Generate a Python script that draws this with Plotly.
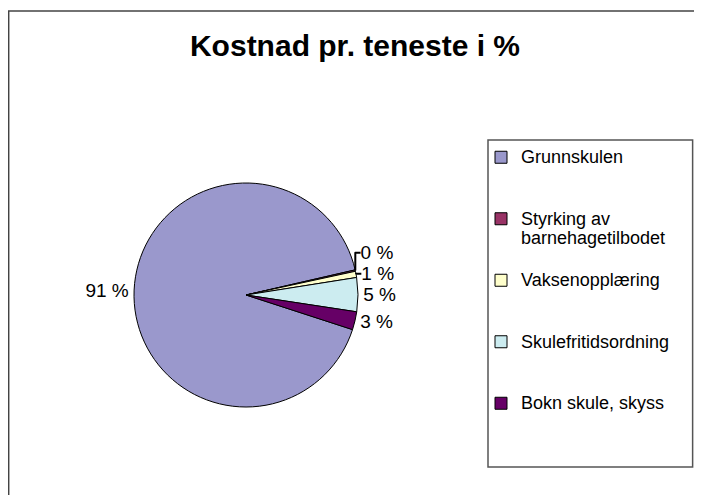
import plotly.graph_objects as go

# ---- data ----
categories = ["Grunnskulen", "Styrking av barnehagetilbodet", "Vaksenopplæring",
              "Skulefritidsordning", "Bokn skule, skyss"]
legend_labels = ["Grunnskulen", "Styrking av<br>barnehagetilbodet", "Vaksenopplæring",
                 "Skulefritidsordning", "Bokn skule, skyss"]
values_pct = [91.4, 0.2, 0.9, 4.9, 2.6]
colors = ["#9A98CC", "#993366", "#FFFFCC", "#CCECF0", "#660066"]

# page is offset by the 8px default body margin
OFF = 8
W, H = 702 - 2 * OFF, 503 - 2 * OFF
FONT = "Liberation Sans, Arial, sans-serif"


def px(x):
    return (x - OFF) / W


def py(y):
    return 1 - (y - OFF) / H


# pad legend entries to three lines each for spacing, with larger glyphs
padded = []
for lab in legend_labels:
    n = lab.count("<br>") + 1
    lines = lab.split("<br>")
    body = "<br>".join("<span style='font-size:18px'>%s</span>" % s for s in lines)
    padded.append(body + "<br> " * (3 - n))

fig = go.Figure(go.Pie(
    labels=padded,
    values=values_pct,
    sort=False,
    direction="clockwise",
    rotation=108,
    marker=dict(colors=colors, line=dict(color="black", width=1)),
    textposition="outside",
    texttemplate="%{value:.0f} %",
    textfont=dict(family=FONT, size=19, color="black"),
    hoverinfo="skip",
    domain=dict(x=[px(246 - 112), px(246 + 112)],
                y=[py(295 + 112), py(295 - 112)]),
))

fig.update_layout(
    width=W, height=H,
    margin=dict(l=0, r=0, t=0, b=0),
    paper_bgcolor="white",
    font=dict(family=FONT, color="black"),
    title=dict(text="<b>Kostnad pr. teneste i %</b>", x=px(355), xanchor="center",
               y=py(45), yanchor="middle",
               font=dict(family=FONT, size=30, color="black")),
    showlegend=True,
    legend=dict(x=px(481), xanchor="left", y=py(141), yanchor="top",
                font=dict(family=FONT, size=15, color="black"),
                valign="top", bgcolor="rgba(0,0,0,0)", borderwidth=0),
    shapes=[
        dict(type="rect", xref="paper", yref="paper",
             x0=0.001, x1=1.2, y0=-0.2, y1=py(11),
             line=dict(color="#444444", width=1.5), fillcolor="rgba(0,0,0,0)"),
        dict(type="rect", xref="paper", yref="paper",
             x0=px(488), x1=0.998, y0=py(467), y1=py(140),
             line=dict(color="#555555", width=1.5), fillcolor="rgba(0,0,0,0)"),
    ],
)

fig.write_html("out.html")
